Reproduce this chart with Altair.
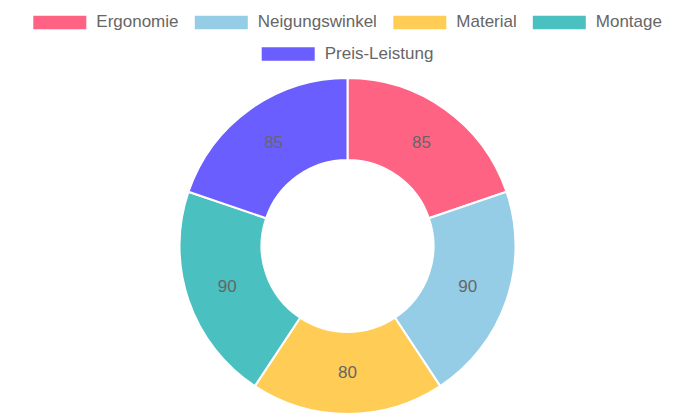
import altair as alt
import pandas as pd

categories = ["Ergonomie", "Neigungswinkel", "Material", "Montage", "Preis-Leistung"]
values = [85, 90, 80, 90, 85]
colors = ["#FF6384", "#96CDE6", "#FFCD56", "#4BC0C0", "#6A5EFF"]

df = pd.DataFrame({"kategorie": categories, "wert": values, "idx": list(range(len(categories)))})

swatch = "M-1,-0.255L1,-0.255L1,0.255L-1,0.255Z"


def leg(vals, x, y):
    return alt.Legend(
        title=None, values=vals, orient="none", legendX=x, legendY=y,
        direction="horizontal", symbolType=swatch, symbolSize=2809,
        symbolStrokeWidth=0, symbolOpacity=1, labelFont="Liberation Sans",
        labelFontSize=17, labelColor="#666666", labelOffset=10,
        columnPadding=15.5, padding=0, labelLimit=300,
    )


scale = alt.Scale(domain=categories, range=colors)

base = alt.Chart(df).encode(
    theta=alt.Theta("wert:Q", stack=True),
    order=alt.Order("idx:Q"),
)

arcs1 = base.mark_arc(outerRadius=168, innerRadius=86, stroke="white", strokeWidth=2).encode(
    color=alt.Color("kategorie:N", scale=scale, legend=leg(categories[:4], 25.3, -82.3))
)
arcs2 = base.mark_arc(outerRadius=168, innerRadius=86, stroke="white", strokeWidth=2).encode(
    color=alt.Color("kategorie:N", scale=scale, legend=leg(categories[4:], 253.7, -50.5))
)
labels = base.mark_text(radius=127, fontSize=17, font="Liberation Sans", color="#666666").encode(
    text="wert:Q", detail="kategorie:N"
)

chart = (
    alt.layer(arcs1, arcs2, labels)
    .resolve_scale(color="independent")
    .properties(
        width=679, height=336,
        padding={"left": 0, "top": 70, "right": 0, "bottom": 0},
        autosize=alt.AutoSizeParams(type="none"),
    )
    .configure_view(stroke=None)
)

chart.save("out.html", embed_options={"renderer": "svg", "actions": False})
